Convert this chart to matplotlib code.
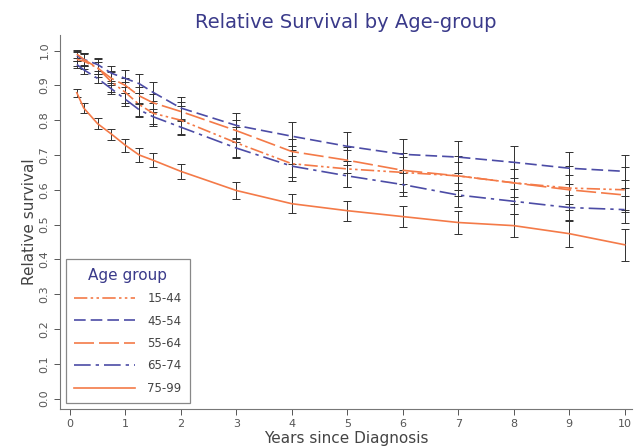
import numpy as np
import matplotlib
matplotlib.use("Agg")
import matplotlib.pyplot as plt

years = [0.125, 0.25, 0.5, 0.75, 1, 1.25, 1.5, 2, 3, 4, 5, 6, 7, 8, 9, 10]
groups = ["15-44", "45-54", "55-64", "65-74", "75-99"]

rs_1544 = [0.975, 0.97, 0.95, 0.91, 0.88, 0.845, 0.82, 0.80, 0.735, 0.675, 0.66, 0.65, 0.64, 0.62, 0.605, 0.60]
rs_4554 = [0.985, 0.975, 0.96, 0.935, 0.92, 0.905, 0.88, 0.835, 0.785, 0.754, 0.725, 0.702, 0.694, 0.679, 0.662, 0.653]
rs_5564 = [0.99, 0.975, 0.95, 0.92, 0.90, 0.87, 0.85, 0.825, 0.77, 0.71, 0.685, 0.656, 0.64, 0.62, 0.60, 0.585]
rs_6574 = [0.96, 0.945, 0.92, 0.89, 0.86, 0.83, 0.81, 0.78, 0.72, 0.668, 0.64, 0.615, 0.585, 0.567, 0.549, 0.543]
rs_7599 = [0.879, 0.835, 0.79, 0.76, 0.728, 0.70, 0.685, 0.653, 0.598, 0.56, 0.54, 0.523, 0.506, 0.497, 0.474, 0.442]

# half-width of the confidence intervals
ci_1544 = [0.02, 0.022, 0.025, 0.028, 0.03, 0.033, 0.036, 0.04, 0.045, 0.05, 0.053, 0.056, 0.058, 0.06, 0.062, 0.065]
ci_4554 = [0.015, 0.018, 0.02, 0.022, 0.025, 0.027, 0.03, 0.033, 0.036, 0.04, 0.042, 0.044, 0.045, 0.046, 0.046, 0.047]
ci_5564 = [0.012, 0.015, 0.018, 0.02, 0.022, 0.024, 0.026, 0.028, 0.032, 0.035, 0.037, 0.039, 0.04, 0.041, 0.042, 0.043]
ci_6574 = [0.01, 0.012, 0.014, 0.016, 0.018, 0.02, 0.021, 0.023, 0.027, 0.03, 0.032, 0.034, 0.035, 0.036, 0.037, 0.038]
ci_7599 = [0.012, 0.013, 0.015, 0.016, 0.018, 0.019, 0.02, 0.022, 0.025, 0.027, 0.029, 0.031, 0.033, 0.034, 0.037, 0.046]

orange = "#f47a48"
blue = "#4c4ca6"
styles = [
    (orange, (0, (8, 2, 1.5, 2, 1.5, 2))),
    (blue, (0, (7, 3))),
    (orange, (0, (12, 3))),
    (blue, (0, (10, 3, 2, 3))),
    (orange, "-"),
]
series = [rs_1544, rs_4554, rs_5564, rs_6574, rs_7599]
cis = [ci_1544, ci_4554, ci_5564, ci_6574, ci_7599]

fig = plt.figure(figsize=(6.37, 4.48), dpi=100)
ax = fig.add_axes([0.094, 0.087, 0.898, 0.835])

for name, vals, ci, (col, ls) in zip(groups, series, cis, styles):
    ax.errorbar(years, vals, yerr=ci, fmt="none", ecolor="#303030",
                elinewidth=0.7, capsize=3, capthick=0.7, zorder=2)
    ax.plot(years, vals, color=col, linestyle=ls, linewidth=1.2, label=name, zorder=3)

ax.set_xlim(-0.18, 10.13)
ax.set_ylim(-0.03, 1.045)
ax.set_xticks(range(0, 11))
ax.set_yticks(np.arange(0, 1.01, 0.1))
ax.set_yticklabels(["%.1f" % v for v in np.arange(0, 1.01, 0.1)], rotation=90, va="center")
ax.tick_params(colors="#555555", labelsize=8, length=4, width=0.7)
for s in ["top", "right"]:
    ax.spines[s].set_visible(False)
for s in ["left", "bottom"]:
    ax.spines[s].set_color("#777777")
    ax.spines[s].set_linewidth(0.8)

ax.set_xlabel("Years since Diagnosis", fontsize=11, color="#444444", labelpad=1)
ax.set_ylabel("Relative survival", fontsize=11, color="#444444", labelpad=2)
ax.set_title("Relative Survival by Age-group", fontsize=14, color="#3a3a8a", pad=5)

leg = ax.legend(loc="lower left", title="Age group", fontsize=8.5, title_fontsize=11,
                handlelength=5.2, labelspacing=0.8, borderpad=0.7, handletextpad=1.0,
                fancybox=False, framealpha=1, bbox_to_anchor=(0.0, 0.0))
leg.get_title().set_color("#3a3a8a")
leg.get_frame().set_edgecolor("#888888")
leg.get_frame().set_linewidth(0.9)
for t in leg.get_texts():
    t.set_color("#444444")

fig.savefig("out.png", dpi=100)
